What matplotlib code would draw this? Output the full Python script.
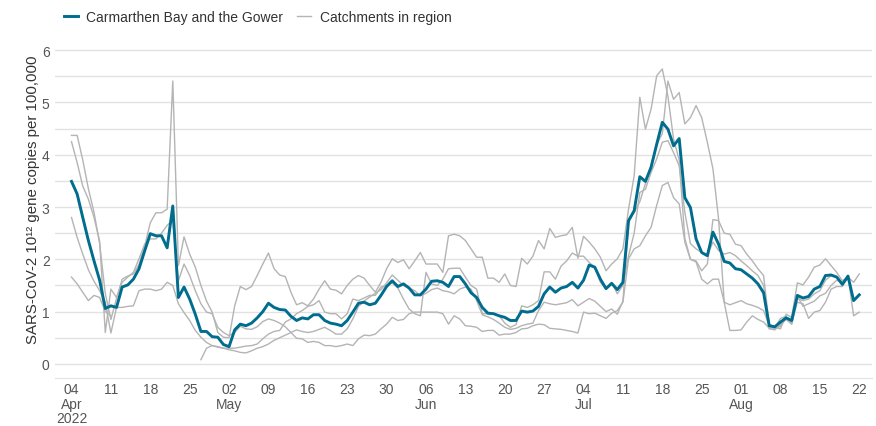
import matplotlib
matplotlib.use("Agg")
import matplotlib.pyplot as plt
from matplotlib.lines import Line2D
import numpy as np
import pandas as pd

plt.rcParams["font.family"] = ["Liberation Sans", "DejaVu Sans"]

nan = np.nan
start_date = "2022-04-04"

# Carmarthen Bay and the Gower, daily values from 4 Apr 2022
bay_values = [
    3.49, 3.25, 2.8, 2.36, 1.97, 1.6, 1.06, 1.11, 1.08, 1.47,
    1.51, 1.62, 1.82, 2.16, 2.49, 2.45, 2.45, 2.22, 3.02, 1.27,
    1.47, 1.24, 0.95, 0.62, 0.62, 0.52, 0.51, 0.37, 0.33, 0.65,
    0.76, 0.73, 0.78, 0.88, 1.0, 1.16, 1.08, 1.04, 1.03, 0.91,
    0.83, 0.88, 0.86, 0.94, 0.94, 0.83, 0.78, 0.76, 0.73, 0.83,
    0.99, 1.16, 1.18, 1.13, 1.16, 1.31, 1.48, 1.59, 1.48, 1.53,
    1.45, 1.32, 1.32, 1.43, 1.58, 1.59, 1.56, 1.48, 1.67, 1.67,
    1.53, 1.36, 1.27, 1.08, 0.97, 0.96, 0.92, 0.89, 0.83, 0.83,
    1.01, 0.99, 1.01, 1.10, 1.34, 1.47, 1.37, 1.45, 1.48, 1.56,
    1.45, 1.6, 1.89, 1.85, 1.62, 1.44, 1.54, 1.42, 1.56, 2.74,
    2.93, 3.58, 3.49, 3.76, 4.2, 4.62, 4.49, 4.17, 4.31, 3.18,
    2.99, 2.39, 2.13, 2.07, 2.52, 2.29, 1.96, 1.93, 1.82, 1.80,
    1.72, 1.64, 1.53, 1.36, 0.73, 0.71, 0.80, 0.88, 0.83, 1.31,
    1.26, 1.29, 1.43, 1.48, 1.69, 1.70, 1.66, 1.52, 1.68, 1.21,
    1.32,
]

# the other catchments in the region (nan = no sample)
catchment_1 = [
    4.37, 4.37, 3.9, 3.35, 2.9, 2.3, 1.35, 0.85, 1.25, 1.62,
    1.68, 1.72, 1.9, 2.25, 2.7, 2.89, 2.89, 2.96, 5.41, 1.88,
    2.43, 2.1, 1.85, 1.5, 1.2, 0.99, 0.6, 0.51, 0.5, 1.11,
    1.48, 1.42, 1.48, 1.69, 1.91, 2.12, 1.82, 1.7, 1.67, 1.37,
    1.13, 1.17, 1.11, 1.24, 1.43, 1.59, 1.43, 1.41, 1.34, 1.5,
    1.62, 1.69, 1.64, 1.5, 1.37, 1.56, 1.82, 2.01, 1.94, 1.99,
    1.82, 1.97, 2.13, 1.91, 1.91, 1.91, 1.75, 2.45, 2.48, 2.45,
    2.36, 2.2, 2.04, 2.04, 1.64, 1.64, 1.56, 1.72, 1.5, 1.48,
    2.02, 1.91, 2.06, 2.36, 2.2, 2.59, 2.42, 2.45, 2.47, 2.61,
    2.02, 2.44, 2.33, 2.2, 2.04, 1.78, 1.91, 2.01, 2.2, 2.96,
    3.6, 5.1, 4.49, 4.87, 5.51, 5.64, 5.12, 4.3, 3.9, 2.4,
    2.0, 1.97, 1.78, 1.91, 2.76, 2.74, 2.5, 2.48, 2.29, 2.26,
    2.1, 1.97, 1.82, 1.69, 0.76, 0.7, 0.67, 0.95, 0.89, 1.55,
    1.51, 1.66, 1.85, 1.89, 2.01, 1.88, 1.75, 1.59, 1.66, 1.56,
    1.72,
]
catchment_2 = [
    4.25, 3.85, 3.4, 3.15, 2.8, 2.35, 0.6, 1.43, 1.27, 1.56,
    1.66, 1.75, 2.01, 2.29, 2.39, 2.39, 2.5, 2.65, 2.75, 1.59,
    1.91, 1.69, 1.4, 1.15, 0.99, 0.96, 0.7, 0.6, 0.54, 0.6,
    0.72, 0.67, 0.66, 0.71, 0.81, 0.86, 0.83, 0.78, 0.71, 0.6,
    0.49, 0.48, 0.41, 0.43, 0.41, 0.35, 0.35, 0.33, 0.35, 0.38,
    0.35, 0.48, 0.55, 0.54, 0.57, 0.67, 0.76, 0.89, 0.83, 0.85,
    0.96, 0.99, 0.99, 0.99, 0.99, 0.99, 0.96, 0.76, 0.92, 0.86,
    0.73, 0.72, 0.7, 0.62, 0.64, 0.64, 0.55, 0.57, 0.57, 0.6,
    0.67, 0.68, 0.73, 0.76, 0.75, 0.68, 0.67, 0.66, 0.64, 0.62,
    0.59, 0.99, 0.96, 0.97, 0.92, 0.87, 0.97, 1.02, 1.18, 2.01,
    2.2, 2.26, 2.45, 2.61, 3.03, 3.41, 3.47, 3.18, 3.06, 2.33,
    2.0, 1.95, 1.62, 1.53, 1.62, 1.62, 1.18, 1.13, 1.17, 1.21,
    1.15, 1.12, 1.08, 1.02, 0.73, 0.67, 0.72, 0.87, 0.8, 1.18,
    1.15, 0.87, 0.99, 1.02, 1.18, 1.43, 1.48, 1.48, 1.68, 0.92,
    0.99,
]
catchment_3 = [
    2.8, 2.42, 2.1, 1.8, 1.58, 1.4, 1.18, 0.59, 1.08, 1.08,
    1.1, 1.11, 1.4, 1.43, 1.43, 1.4, 1.43, 1.56, 1.5, 1.15,
    0.98, 0.83, 0.64, 0.51, 0.41, 0.35, 0.32, 0.3, 0.3, 0.3,
    0.32, 0.34, 0.35, 0.38, 0.48, 0.57, 0.62, 0.64, 0.8, 0.86,
    0.96, 1.02, 1.1, 1.13, 1.21, 0.99, 0.96, 0.96, 0.86, 0.96,
    1.24, 1.21, 1.26, 1.31, 1.31, 1.47, 1.5, 1.55, 1.45, 1.24,
    1.05, 0.96, 0.92, 1.75, 1.53, 1.5, 1.62, 1.82, 1.83, 1.83,
    1.66, 1.5, 1.43, 0.96, 0.96, 0.96, 0.92, 0.78, 0.7, 0.75,
    1.11, 1.08, 1.13, 1.21, 1.76, 1.76, 1.62, 1.87, 1.97, 2.12,
    2.06, 2.06, 1.94, 1.85, 1.56, 1.43, 1.56, 1.34, 1.5, 2.07,
    2.5, 3.28, 3.34, 3.66, 3.92, 4.24, 4.27, 4.04, 3.79, 2.9,
    2.3, 2.2, 2.13, 2.07, 2.33, 2.17, 2.1, 2.13, 2.07, 1.97,
    1.88, 1.78, 1.69, 1.5, 0.67, 0.65, 0.75, 0.85, 0.76, 1.25,
    1.21, 1.24, 1.34, 1.4, 1.6, 1.69, 1.66, 1.55, 1.66, nan,
    nan,
]
catchment_4 = [
    1.66, 1.53, 1.37, 1.21, 1.31, 1.27, 1.0, 0.92, nan, nan,
    nan, nan, nan, nan, nan, nan, nan, nan, nan, nan,
    nan, nan, nan, 0.08, 0.3, 0.35, 0.33, 0.3, 0.27, 0.25,
    0.22, 0.21, 0.25, 0.3, 0.33, 0.38, 0.45, 0.5, 0.55, 0.6,
    0.65, 0.62, 0.6, 0.62, 0.66, 0.7, 0.64, 0.57, 0.57, 0.67,
    0.86, 1.1, 1.2, 1.28, 1.35, 1.42, 1.55, 1.7, 1.6, 1.5,
    1.45, 1.4, 1.3, 1.35, 1.42, 1.45, 1.4, 1.38, 1.34, 1.43,
    1.47, 1.43, 1.21, 0.94, 0.9, 0.85, 0.78, 0.7, 0.66, 0.68,
    0.73, 0.76, 0.78, 1.02, 1.18, 1.15, 1.13, 1.15, 1.17, 1.23,
    1.11, 1.18, 1.25, 1.2, 1.1, 1.0, 1.05, 0.95, 1.2, 2.71,
    2.9, 3.1, 3.45, 3.8, 4.2, 4.4, 5.41, 5.06, 5.19, 4.59,
    4.71, 4.94, 4.71, 4.24, 3.73, 2.77, 1.18, 0.64, 0.64, 0.65,
    0.8, 0.92, 0.85, 0.8, 0.68, 0.69, 0.87, 0.91, 0.76, 1.3,
    1.1, 1.15, 1.2, 1.3, 1.35, 1.5, 1.6, 1.55, 1.62, nan,
    nan,
]
catchments = [catchment_1, catchment_2, catchment_3, catchment_4]

bay_colour = "#006d8f"
catch_colour = "#b4b4b4"

dates = pd.date_range(start_date, periods=len(bay_values), freq="D")

fig = plt.figure(figsize=(8.76, 4.27), dpi=100)
ax = fig.add_axes([0.063, 0.1124, 0.932, 0.78])

for series in catchments:
    ax.plot(dates, series, color=catch_colour, lw=1.0, zorder=2)
ax.plot(dates, bay_values, color=bay_colour, lw=2.1, zorder=3)

ax.set_ylim(-0.27, 6.1)
ax.set_xlim(dates[0] - pd.Timedelta(days=2.9), dates[-1] + pd.Timedelta(days=2.2))
yticks = np.arange(0, 6.5, 0.5)
ax.set_yticks(yticks)
ax.set_yticklabels([str(int(v)) if v == int(v) else "" for v in yticks])
ax.grid(axis="y", color="#e2e2e2", lw=1.0)
ax.set_axisbelow(True)
for side in ["top", "right", "left"]:
    ax.spines[side].set_visible(False)
ax.spines["bottom"].set_color("#e2e2e2")

# weekly ticks, month shown on the first tick of each month
ticks = pd.date_range(start_date, dates[-1], freq="7D")
labels = []
prev_month = None
for i, t in enumerate(ticks):
    lab = t.strftime("%d")
    if t.month != prev_month:
        lab += "\n" + t.strftime("%b")
        prev_month = t.month
    if i == 0:
        lab += "\n" + t.strftime("%Y")
    labels.append(lab)
ax.set_xticks(ticks)
ax.set_xticklabels(labels, linespacing=1.05)
ax.tick_params(axis="both", length=0, labelsize=10, labelcolor="#555555")
ax.tick_params(axis="x", pad=3)
ax.tick_params(axis="y", pad=4)

ax.set_ylabel("SARS-CoV-2 10\u00b9\u00b2 gene copies per 100,000", fontsize=10.8,
              color="#333333")
ax.yaxis.set_label_coords(-0.018, 0.537)

handles = [
    Line2D([], [], color=bay_colour, lw=2.1, label="Carmarthen Bay and the Gower"),
    Line2D([], [], color=catch_colour, lw=1.0, label="Catchments in region"),
]
fig.legend(handles=handles, loc="upper left", bbox_to_anchor=(0.059, 1.003), ncol=2,
           frameon=False, fontsize=10, handlelength=1.0, handletextpad=0.6,
           columnspacing=1.0, labelcolor="#333333")

plt.savefig("out.png", dpi=100)
plt.close(fig)
